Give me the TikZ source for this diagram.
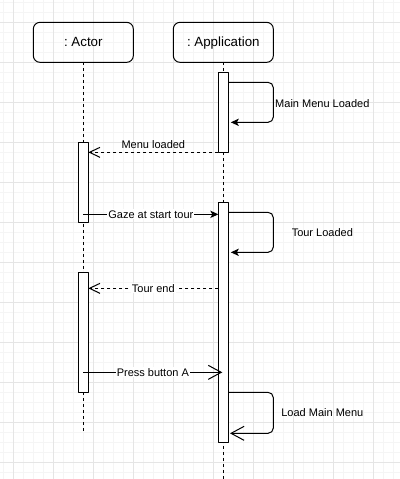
\documentclass[tikz,border=0pt]{standalone}
\usepackage{fontspec}
\setmainfont{Liberation Sans}
\usetikzlibrary{arrows.meta,positioning}
\tikzstyle{call}=[line width=0.75pt,-{Stealth[length=6pt,width=5.5pt,inset=1.5pt]}]
\tikzstyle{send}=[line width=0.75pt,-{Straight Barb[length=9.75pt,width=10.5pt]}]
\tikzstyle{reply}=[line width=0.75pt,dash pattern=on 2.25pt off 2.25pt,-{Straight Barb[length=7.9pt,width=7.5pt]}]

\begin{document}
\begin{tikzpicture}[
        x=0.75pt,y=-0.75pt,
        line join=round,
        lifebox/.style={draw,line width=0.75pt,rounded corners=5pt,minimum width=75pt,minimum height=30pt,inner sep=0pt,outer sep=0pt,text height=6.6pt,text depth=0pt,font=\fontsize{10}{12}\selectfont},
        act/.style={draw,fill=white,line width=0.75pt,minimum width=7.5pt,inner sep=0pt,outer sep=0pt},
        life/.style={line width=0.75pt,dash pattern=on 2.25pt off 2.25pt},
        lbl/.style={font=\fontsize{8.25}{10}\selectfont,inner sep=0.75pt},
        minor/.style={draw=gray!8,line width=0.75pt},
        major/.style={draw=gray!20,line width=0.75pt}
        ]
        \useasboundingbox (-13.33,-22.33) rectangle (386.67,456.67);
        \fill[white] (-13.33,-22.33) rectangle (386.67,456.67);
        \foreach \i in {-10,0,...,380} \draw[minor] (\i,-22.33) -- (\i,456.67);
        \foreach \j in {-20,-10,...,450} \draw[minor] (-13.33,\j) -- (386.67,\j);
        \foreach \i in {0,40,...,360} \draw[major] (\i,-22.33) -- (\i,456.67);
        \foreach \j in {0,40,...,440} \draw[major] (-13.33,\j) -- (386.67,\j);

        \node[lifebox] (actor) at (70,20) {:\ Actor};
        \node[lifebox, right=30pt of actor] (app) {:\ Application};
        \coordinate (actorEnd) at (70,410);
        \coordinate (appEnd) at (210,456.67);
        \draw[life] (actor) -- (actorEnd);
        \draw[life] (app) -- (appEnd);

        \node[act,minimum height=60pt] (a1) at (210,90) {};
        \node[act,minimum height=180pt] (a2) at (210,300) {};
        \node[act,minimum height=60pt] (b1) at (70,160) {};
        \node[act,minimum height=90pt] (b2) at (70,310) {};

        % self calls on the application
        \coordinate (s1) at (215,60);
        \draw[call,rounded corners=4pt] (s1) -- ++(45,0) -- ++(0,40) -- ++(-42.5,0);
        \node[lbl] (l1) at (309,81) {Main Menu Loaded};
        \coordinate (s4) at (215,190);
        \draw[call,rounded corners=4pt] (s4) -- ++(45,0) -- ++(0,40) -- ++(-42.5,0);
        \node[lbl] (l4) at (309,210.5) {Tour Loaded};
        \coordinate (s7) at (215,370);
        \draw[send,rounded corners=4pt] (s7) -- ++(45,0) -- ++(0,41) -- ++(-43.3,0);
        \node[lbl] (l7) at (309,390) {Load Main Menu};

        % messages between the two
        \draw[reply] (a1.south west) -- (a1.south west -| b1.east)
            node[lbl,midway,above=1.5pt] (l2) {Menu loaded};
        \coordinate (s3) at (70,192);
        \draw[call] (s3) -- (s3 -| a2.west)
            node[lbl,midway,fill=white] (l3) {Gaze at start tour};
        \coordinate (s5) at (205,266);
        \draw[reply] (s5) -- (s5 -| b2.east)
            node[lbl,midway,fill=white] (l5) {Tour end};
        \coordinate (s6) at (70,350);
        \coordinate (e6) at (209,350);
        \draw[send] (s6) -- (e6)
            node[lbl,midway,fill=white] (l6) {Press button A};
\end{tikzpicture}
\end{document}
